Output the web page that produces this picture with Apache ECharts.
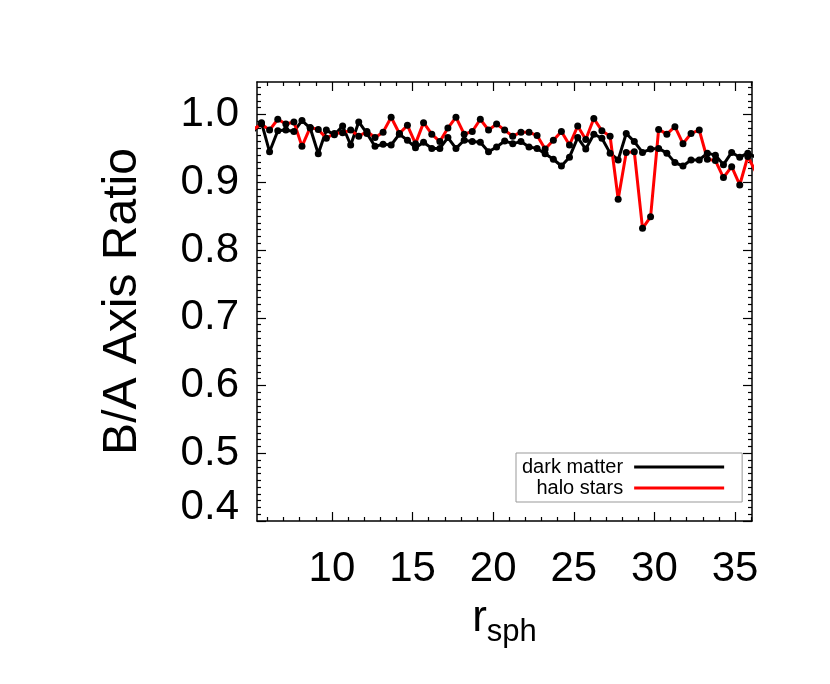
<!DOCTYPE html>
<html>
<head>
<meta charset="utf-8">
<script src="https://cdn.jsdelivr.net/npm/echarts@6/dist/echarts.min.js"></script>
<style>
  html, body { margin: 0; padding: 0; background: #fff; }
  #chart { width: 830px; height: 684px; }
</style>
</head>
<body>
<div id="chart"></div>
<script>
// radius bins
var rSph = [5.13, 5.63, 6.13, 6.64, 7.14, 7.64, 8.14, 8.65, 9.15, 9.65, 10.15,
  10.66, 11.16, 11.66, 12.17, 12.67, 13.17, 13.67, 14.18, 14.68, 15.18,
  15.68, 16.19, 16.69, 17.19, 17.69, 18.20, 18.70, 19.20, 19.71, 20.21,
  20.71, 21.21, 21.72, 22.22, 22.72, 23.22, 23.73, 24.23, 24.73, 25.24,
  25.74, 26.24, 26.74, 27.25, 27.75, 28.25, 28.75, 29.26, 29.76, 30.26,
  30.77, 31.27, 31.77, 32.27, 32.78, 33.28, 33.78, 34.28, 34.79, 35.29,
  35.79, 36.29];

var darkMatter = [0.975, 0.988, 0.945, 0.976, 0.977, 0.975, 0.991, 0.980, 0.942, 0.977, 0.970,
  0.983, 0.955, 0.989, 0.972, 0.953, 0.956, 0.955, 0.971, 0.962, 0.951,
  0.959, 0.950, 0.950, 0.966, 0.950, 0.962, 0.960, 0.959, 0.945, 0.952,
  0.961, 0.957, 0.960, 0.952, 0.950, 0.942, 0.934, 0.924, 0.937, 0.966,
  0.949, 0.971, 0.965, 0.943, 0.933, 0.972, 0.960, 0.944, 0.949, 0.950,
  0.943, 0.929, 0.924, 0.933, 0.933, 0.943, 0.940, 0.926, 0.944, 0.937,
  0.943, 0.937];

var haloStars = [0.978, 0.986, 0.977, 0.993, 0.986, 0.989, 0.953, 0.981, 0.978, 0.965, 0.972,
  0.973, 0.977, 0.968, 0.975, 0.966, 0.974, 0.996, 0.972, 0.984, 0.957,
  0.988, 0.971, 0.960, 0.980, 0.996, 0.971, 0.975, 0.993, 0.977, 0.986,
  0.977, 0.968, 0.974, 0.974, 0.969, 0.949, 0.962, 0.975, 0.955, 0.983,
  0.963, 0.994, 0.976, 0.968, 0.875, 0.944, 0.945, 0.832, 0.849, 0.978,
  0.971, 0.982, 0.957, 0.972, 0.977, 0.934, 0.932, 0.907, 0.923, 0.896,
  0.938, 0.915];

var xMajor = [10, 15, 20, 25, 30, 35];
var xMinor = [6, 7, 8, 9, 11, 12, 13, 14, 16, 17, 18, 19, 21, 22, 23, 24,
  26, 27, 28, 29, 31, 32, 33, 34, 36];
var yMajor = [0.4, 0.5, 0.6, 0.7, 0.8, 0.9, 1.0];
var yMinor = [0.41, 0.42, 0.43, 0.44, 0.45, 0.46, 0.47, 0.48, 0.49,
  0.51, 0.52, 0.53, 0.54, 0.55, 0.56, 0.57, 0.58, 0.59,
  0.61, 0.62, 0.63, 0.64, 0.65, 0.66, 0.67, 0.68, 0.69,
  0.71, 0.72, 0.73, 0.74, 0.75, 0.76, 0.77, 0.78, 0.79,
  0.81, 0.82, 0.83, 0.84, 0.85, 0.86, 0.87, 0.88, 0.89,
  0.91, 0.92, 0.93, 0.94, 0.95, 0.96, 0.97, 0.98, 0.99,
  1.01, 1.02, 1.03, 1.04];

var FONT = 'Liberation Sans, Arial, Helvetica, sans-serif';
var X_MIN = 5.35, X_MAX = 36.05;
var Y_MIN = 0.4, Y_MAX = 1.048;

function pairs(xs, ys) {
  var out = [];
  for (var i = 0; i < xs.length; i++) out.push([xs[i], ys[i]]);
  return out;
}

// one axis = one set of ticks (major or minor) on one side of the box
function xAx(pos, ticks, len, withLabels) {
  return {
    type: 'value', position: pos, min: X_MIN, max: X_MAX,
    axisLine: { show: withLabels !== undefined, onZero: false, lineStyle: { color: '#000', width: 1.5 } },
    axisTick: { show: true, inside: true, length: len, customValues: ticks, lineStyle: { color: '#000', width: 1.2 } },
    axisLabel: withLabels ? {
      show: true, customValues: ticks, margin: 27, color: '#000',
      fontSize: 42, fontFamily: FONT
    } : { show: false },
    splitLine: { show: false }
  };
}

function yAx(pos, ticks, len, withLabels) {
  return {
    type: 'value', position: pos, min: Y_MIN, max: Y_MAX,
    axisLine: { show: withLabels !== undefined, onZero: false, lineStyle: { color: '#000', width: 1.5 } },
    axisTick: { show: true, inside: true, length: len, customValues: ticks, lineStyle: { color: '#000', width: 1.2 } },
    axisLabel: withLabels ? {
      show: true, customValues: ticks, margin: 18, color: '#000',
      fontSize: 42, fontFamily: FONT,
      formatter: function (v) {
        return v === 0.4 ? '{low|0.4}' : v.toFixed(1);
      },
      rich: { low: { fontSize: 42, fontFamily: FONT, color: '#000', padding: [0, 0, 28, 0] } }
    } : { show: false },
    splitLine: { show: false }
  };
}

var xBottom = xAx('bottom', xMajor, 9, true);
xBottom.name = '{r|r}{s|sph}';
xBottom.nameLocation = 'middle';
xBottom.nameGap = 68;
xBottom.nameTextStyle = {
  color: '#000',
  rich: {
    r: { fontSize: 44, fontFamily: FONT, color: '#000' },
    s: { fontSize: 31, fontFamily: FONT, color: '#000', padding: [28, 0, 0, 0] }
  }
};

var yLeft = yAx('left', yMajor, 9, true);
yLeft.name = 'B/A Axis Ratio';
yLeft.nameLocation = 'middle';
yLeft.nameGap = 110;
yLeft.nameTextStyle = { color: '#000', fontSize: 48, fontFamily: FONT };

var chart = echarts.init(document.getElementById('chart'));
var option = {
  backgroundColor: '#fff',
  animation: false,
  grid: { left: 257, right: 78, top: 82, bottom: 163, containLabel: false },
  legend: {
    orient: 'vertical',
    left: 516, top: 453,
    align: 'right',
    padding: [4, 18, 4, 6],
    itemGap: 1,
    itemWidth: 90, itemHeight: 3,
    borderColor: '#999', borderWidth: 1,
    backgroundColor: '#fff',
    textStyle: {
      color: '#000', fontSize: 20, fontFamily: FONT,
      width: 100, align: 'right', lineHeight: 20, padding: [0, 6, 0, 0]
    },
    data: [
      { name: 'dark matter', icon: 'rect', itemStyle: { color: '#000' } },
      { name: 'halo stars', icon: 'rect', itemStyle: { color: '#ff0000' } }
    ]
  },
  xAxis: [
    xBottom,
    xAx('bottom', xMinor, 4),
    xAx('top', xMajor, 9, false),
    xAx('top', xMinor, 4)
  ],
  yAxis: [
    yLeft,
    yAx('left', yMinor, 4),
    yAx('right', yMajor, 9, false),
    yAx('right', yMinor, 4)
  ],
  series: [
    {
      name: 'dark matter',
      type: 'line',
      data: pairs(rSph, darkMatter),
      symbol: 'circle', symbolSize: 7, showAllSymbol: true,
      lineStyle: { color: '#000', width: 3 },
      itemStyle: { color: '#000' }
    },
    {
      name: 'halo stars',
      type: 'line',
      data: pairs(rSph, haloStars),
      symbol: 'circle', symbolSize: 7, showAllSymbol: true,
      lineStyle: { color: '#ff0000', width: 3 },
      itemStyle: { color: '#000' }
    }
  ]
};
chart.setOption(option);
</script>
</body>
</html>
